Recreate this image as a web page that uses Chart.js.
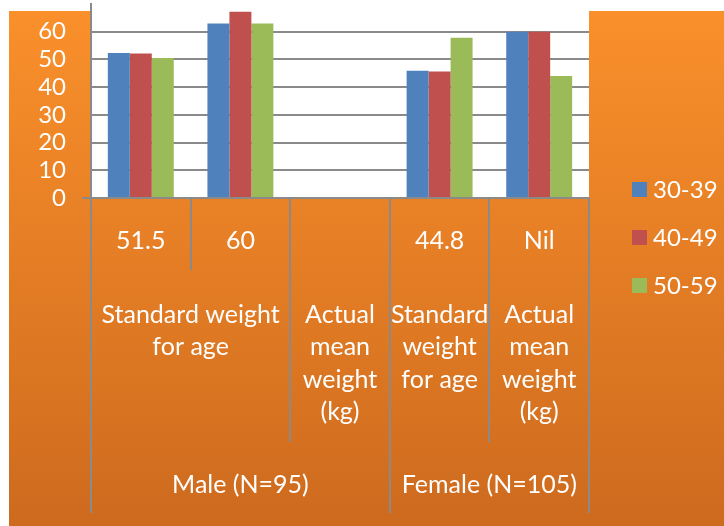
<!DOCTYPE html>
<html>
<head>
<meta charset="utf-8">
<script src="https://cdn.jsdelivr.net/npm/chart.js@4/dist/chart.umd.min.js"></script>
<style>
  html, body { margin: 0; padding: 0; background: #ffffff; }
  #wrap { position: relative; width: 724px; height: 526px; }
</style>
</head>
<body>
<div id="wrap"><canvas id="c" width="724" height="526"></canvas></div>
<script>
// Age groups and the values for each category column
const ageGroups = ['30-39', '40-49', '50-59'];
const values3039 = [52.3, 63, null, 45.9, 60];
const values4049 = [52.1, 67.2, null, 45.6, 60];
const values5059 = [50.5, 63, null, 57.8, 44];

// Three-level category labels
const levelOne = ['51.5', '60', '', '44.8', 'Nil'];
const levelTwo = [
  { lines: ['Standard weight', 'for age'], from: 0, to: 1 },
  { lines: ['Actual', 'mean', 'weight', '(kg)'], from: 2, to: 2 },
  { lines: ['Standard', 'weight', 'for age'], from: 3, to: 3 },
  { lines: ['Actual', 'mean', 'weight', '(kg)'], from: 4, to: 4 }
];
const levelThree = [
  { text: 'Male (N=95)', from: 0, to: 2 },
  { text: 'Female (N=105)', from: 3, to: 4 }
];

const yTicks = { min: 0, max: 70, step: 10 };
const seriesColors = ['#4F81BD', '#C0504D', '#9BBB59'];

const FONT = 'Lato, "Open Sans", sans-serif';
const LINE = '#8a8a8a';
const TOP_MARGIN = 11;
const LEFT_MARGIN = 9;

const backdrop = {
  id: 'backdrop',
  beforeDraw(chart) {
    const { ctx, chartArea: a, width, height } = chart;
    ctx.save();
    ctx.fillStyle = '#ffffff';
    ctx.fillRect(0, 0, width, height);
    const g = ctx.createLinearGradient(0, TOP_MARGIN, 0, height);
    g.addColorStop(0, '#FA902B');
    g.addColorStop(1, '#CD6A1E');
    ctx.fillStyle = g;
    ctx.fillRect(LEFT_MARGIN, TOP_MARGIN, width - LEFT_MARGIN, height - TOP_MARGIN);
    ctx.fillStyle = '#ffffff';
    ctx.fillRect(a.left, 0, a.right - a.left, a.bottom);
    ctx.restore();
  }
};

const multiAxis = {
  id: 'multiAxis',
  afterDraw(chart) {
    const { ctx, chartArea: a, scales } = chart;
    const x = scales.x;
    const n = levelOne.length;
    const centre = i => x.getPixelForValue(i);
    const edge = k => {
      if (k <= 0) return a.left;
      if (k >= n) return a.right;
      return (centre(k - 1) + centre(k)) / 2;
    };
    const y0 = a.bottom;

    ctx.save();
    // separator depth for each boundary
    const depth = new Array(n + 1).fill(270);
    levelTwo.forEach(g => { depth[g.from] = Math.max(depth[g.from], 442); depth[g.to + 1] = Math.max(depth[g.to + 1], 442); });
    levelThree.forEach(g => { depth[g.from] = 513; depth[g.to + 1] = 513; });

    ctx.strokeStyle = LINE;
    ctx.lineWidth = 2;
    ctx.beginPath();
    ctx.moveTo(a.left - 9, y0);
    ctx.lineTo(a.right, y0);
    for (let k = 0; k <= n; k++) {
      const px = Math.round(edge(k));
      ctx.moveTo(px, y0);
      ctx.lineTo(px, depth[k]);
    }
    ctx.stroke();

    ctx.fillStyle = '#ffffff';
    ctx.textAlign = 'center';
    ctx.textBaseline = 'alphabetic';
    ctx.font = '25px ' + FONT;
    levelOne.forEach((t, i) => ctx.fillText(t, centre(i), 249));
    levelTwo.forEach(g => {
      const cx = (edge(g.from) + edge(g.to + 1)) / 2;
      g.lines.forEach((t, j) => ctx.fillText(t, cx, 322.5 + j * 32.5));
    });
    levelThree.forEach(g => {
      const cx = (edge(g.from) + edge(g.to + 1)) / 2;
      ctx.fillText(g.text, cx, 493);
    });

    // legend
    ctx.textAlign = 'left';
    ctx.font = '24px ' + FONT;
    chart.data.datasets.forEach((ds, i) => {
      const cy = 189.5 + i * 48;
      ctx.fillStyle = ds.backgroundColor;
      ctx.fillRect(632, cy - 7.5, 15, 15);
      ctx.fillStyle = '#ffffff';
      ctx.fillText(ds.label, 653, cy + 8.5);
    });
    ctx.restore();
  }
};

new Chart(document.getElementById('c'), {
  type: 'bar',
  data: {
    labels: levelOne,
    datasets: [
      { label: ageGroups[0], data: values3039, backgroundColor: seriesColors[0] },
      { label: ageGroups[1], data: values4049, backgroundColor: seriesColors[1] },
      { label: ageGroups[2], data: values5059, backgroundColor: seriesColors[2] }
    ]
  },
  options: {
    responsive: false,
    animation: false,
    devicePixelRatio: 1,
    layout: { padding: { top: 4, right: 135, bottom: 0, left: 0 } },
    datasets: { bar: { categoryPercentage: 0.662, barPercentage: 1, borderWidth: 0 } },
    plugins: { legend: { display: false }, tooltip: { enabled: false } },
    scales: {
      x: {
        grid: { display: false },
        border: { display: false },
        ticks: { display: false },
        afterFit(s) { s.height = 328; s.paddingLeft = 0; s.paddingRight = 0; }
      },
      y: {
        min: yTicks.min,
        max: yTicks.max,
        ticks: {
          stepSize: yTicks.step,
          autoSkip: false,
          color: '#ffffff',
          padding: 25,
          font: { family: FONT, size: 24 },
          callback: v => (v === yTicks.max ? '' : v)
        },
        grid: {
          drawTicks: false,
          lineWidth: 2,
          color: c => (c.tick && c.tick.value === yTicks.max) ? 'rgba(0,0,0,0)' : LINE
        },
        border: { display: true, color: LINE, width: 2 },
        afterFit(s) { s.width = 91; s.paddingTop = 0; s.paddingBottom = 0; }
      }
    }
  },
  plugins: [backdrop, multiAxis]
});
</script>
</body>
</html>
